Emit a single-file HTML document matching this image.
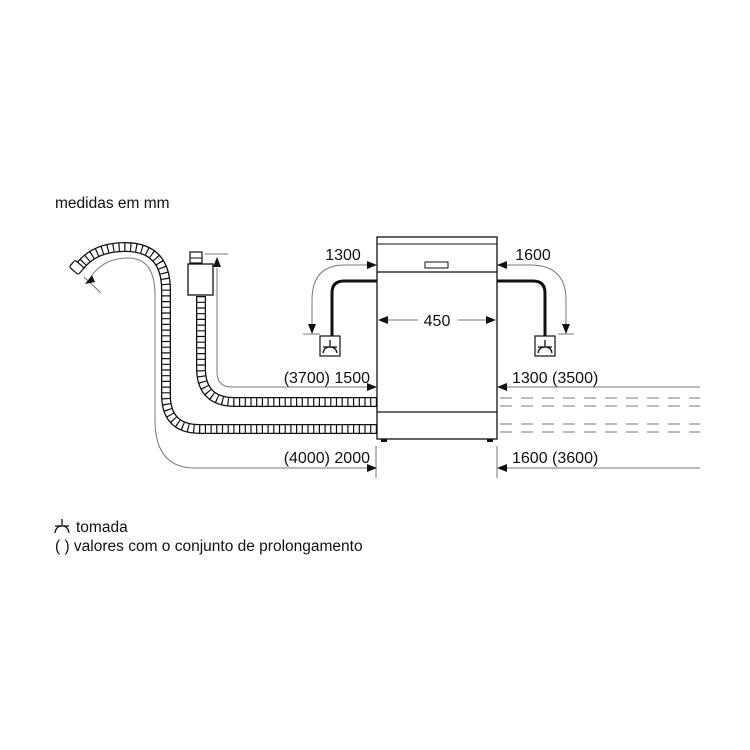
<!DOCTYPE html>
<html><head><meta charset="utf-8"><style>
html,body{margin:0;padding:0;background:#fff;width:750px;height:750px;overflow:hidden}
svg text{font-family:"Liberation Sans",Arial,sans-serif;fill:#111}
</style></head><body>
<svg width="750" height="750" viewBox="0 0 750 750" xmlns="http://www.w3.org/2000/svg">
<text x="55" y="208" font-size="15.5">medidas em mm</text>

<g fill="none">
<!-- drain hose -->
<path d="M377,429 L200,429 Q166,429 166,395 L166,290 Q166,247 125,247 Q95,247 80,266" stroke="#111" stroke-width="10"/>
<path d="M377,429 L200,429 Q166,429 166,395 L166,290 Q166,247 125,247 Q95,247 80,266" stroke="#fff" stroke-width="7.4"/>
<path d="M377,429 L200,429 Q166,429 166,395 L166,290 Q166,247 125,247 Q95,247 80,266" stroke="#111" stroke-width="8" stroke-dasharray="1.2 4.5"/>
<rect x="71" y="263" width="12" height="9" rx="2" transform="rotate(40 77 267)" stroke="#111" stroke-width="1.2" fill="#fff"/>
<!-- inlet hose -->
<path d="M377,402 L235,402 Q201,402 201,368 L201,296" stroke="#111" stroke-width="10"/>
<path d="M377,402 L235,402 Q201,402 201,368 L201,296" stroke="#fff" stroke-width="7.4"/>
<path d="M377,402 L235,402 Q201,402 201,368 L201,296" stroke="#111" stroke-width="8" stroke-dasharray="1.2 4.5"/>
<rect x="188" y="264" width="25" height="31" stroke="#111" stroke-width="1.3" fill="#fff"/>
<rect x="190" y="252" width="12" height="11" stroke="#111" stroke-width="1.2" fill="#fff"/>
<line x1="190" y1="258" x2="202" y2="258" stroke="#111"/>

<!-- dishwasher -->
<rect x="377" y="237" width="120" height="202" stroke="#111" stroke-width="1.3" fill="#fff"/>
<line x1="377" y1="244" x2="497" y2="244" stroke="#111"/>
<line x1="377" y1="272" x2="497" y2="272" stroke="#111" stroke-width="1.2"/>
<line x1="377" y1="412" x2="497" y2="412" stroke="#111" stroke-width="1.2"/>
<rect x="425" y="262" width="23" height="6" stroke="#111" fill="#fff"/>

<!-- gray dimension lines -->
<g stroke="#777" stroke-width="1">
<line x1="205" y1="254" x2="228" y2="254"/>
<path d="M217,268 L217,372 Q217,387 232,387 L368,387"/>
<path d="M368,468 L195,468 Q155,468 155,420 L155,295 Q155,258 128,258 Q105,258 92,275"/>
<line x1="84" y1="277" x2="101" y2="293"/>
<path d="M368,265 L345,265 Q312,265 312,300 L312,326"/>
<line x1="303" y1="334" x2="320" y2="334"/>
<path d="M505,265 L530,265 Q566,265 566,300 L566,326"/>
<line x1="558" y1="334" x2="574" y2="334"/>
<line x1="386" y1="320" x2="418" y2="320"/>
<line x1="458" y1="320" x2="488" y2="320"/>
<line x1="700" y1="387" x2="506" y2="387"/>
<line x1="700" y1="468" x2="506" y2="468"/>
<line x1="376" y1="446" x2="376" y2="478"/>
<line x1="497" y1="446" x2="497" y2="478"/>
<g stroke-dasharray="12 9">
<line x1="500" y1="398" x2="700" y2="398"/>
<line x1="500" y1="406" x2="700" y2="406"/>
<line x1="500" y1="424" x2="700" y2="424"/>
<line x1="500" y1="432" x2="700" y2="432"/>
</g>
</g>

<path d="M377,281 L344,281 Q332,281 332,293 L332,336" stroke="#111" stroke-width="3"/>
<path d="M497,281 L533,281 Q545,281 545,293 L545,336" stroke="#111" stroke-width="3"/>
<rect x="320" y="336" width="20" height="20" stroke="#111" stroke-width="1.2" fill="#fff"/>
<rect x="535" y="336" width="20" height="20" stroke="#111" stroke-width="1.2" fill="#fff"/>
<g stroke="#111" stroke-width="1.3">
<path d="M330,340 v7 M323,353 Q324,347 330,347 Q336,347 337,353 M323,347 h14"/>
<path d="M545,340 v7 M538,353 Q539,347 545,347 Q551,347 552,353 M538,347 h14"/>
<path d="M62,519 v7 M55,533 Q56,526 62,526 Q68,526 69,533 M55,526 h14"/>
</g>
</g>
<g fill="#111">
<path d="M92,275 l-7,9 l10,-2 z"/>
<path d="M217,257 l-4,10 h8 z"/>
<path d="M377,387 l-10,-4 v8 z"/>
<path d="M377,468 l-10,-4 v8 z"/>
<path d="M377,265 l-10,-4 v8 z"/>
<path d="M497,265 l10,-4 v8 z"/>
<path d="M497,387 l10,-4 v8 z"/>
<path d="M497,468 l10,-4 v8 z"/>
<path d="M312,334 l-4,-10 h8 z"/>
<path d="M566,334 l-4,-10 h8 z"/>
<path d="M378,320 l10,-4 v8 z"/>
<path d="M496,320 l-10,-4 v8 z"/>
</g>
<rect x="381" y="439" width="6" height="3" fill="#111"/>
<rect x="487" y="439" width="6" height="3" fill="#111"/>

<text x="343" y="260" font-size="16" text-anchor="middle">1300</text>
<text x="533" y="260" font-size="16" text-anchor="middle">1600</text>
<text x="437" y="326" font-size="16" text-anchor="middle">450</text>
<text x="370" y="383" font-size="16" text-anchor="end">(3700) 1500</text>
<text x="512" y="383" font-size="16">1300 (3500)</text>
<text x="370" y="463" font-size="16" text-anchor="end">(4000) 2000</text>
<text x="512" y="463" font-size="16">1600 (3600)</text>
<text x="76" y="532" font-size="15.5">tomada</text>
<text x="55" y="551" font-size="15.5">( ) valores com o conjunto de prolongamento</text>
</svg>
</body></html>
